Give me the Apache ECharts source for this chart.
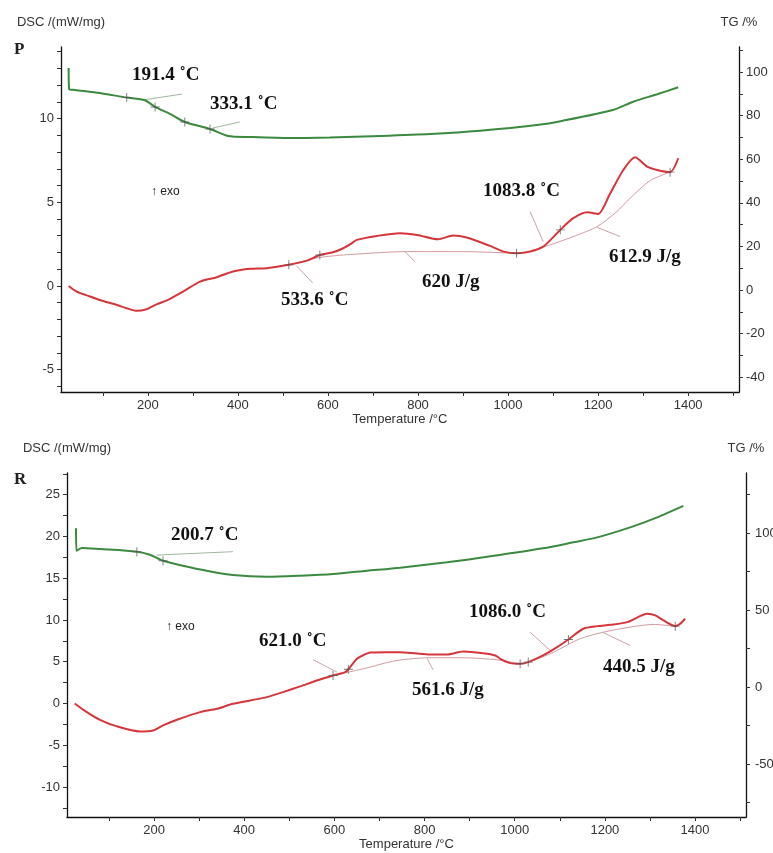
<!DOCTYPE html>
<html>
<head>
<meta charset="utf-8">
<script src="https://cdn.jsdelivr.net/npm/echarts@6/dist/echarts.min.js"></script>
<style>
  html, body { margin: 0; padding: 0; background: #fff; }
  #chart { width: 773px; height: 853px; }
</style>
</head>
<body>
<div id="chart"></div>
<script>
// ---- Sample P: TG (%) and DSC (mW/mg) against temperature (°C) ----
const pTg = [[24,101.9],[25,92.2],[38,91.8],[93,90.4],[153,88.3],[193,87.1],[216,84.0],[249,80.8],[282,77.1],[338,73.9],[378,70.7],[427,70.2],[516,69.7],[604,70.0],[716,70.7],[827,71.6],[938,73.1],[1064,75.7],[1122,77.7],[1233,82.6],[1278,86.4],[1331,89.8],[1378,93.0]];
const pDsc = [[24,0],[42,-0.34],[70,-0.62],[93,-0.84],[131,-1.14],[155,-1.35],[175,-1.49],[197,-1.39],[219,-1.1],[241,-0.88],[278,-0.34],[316,0.26],[353,0.52],[389,0.86],[427,1.02],[464,1.06],[513,1.26],[553,1.51],[582,1.85],[611,2.01],[634,2.25],[650,2.5],[664,2.75],[709,2.99],[760,3.15],[798,3.05],[845,2.79],[878,3.01],[908,2.89],[960,2.39],[990,2.05],[1019,1.95],[1049,2.05],[1078,2.35],[1100,2.9],[1116,3.35],[1145,4.05],[1176,4.4],[1200,4.3],[1227,5.54],[1256,6.93],[1282,7.69],[1309,7.13],[1331,6.93],[1360,6.8],[1378,7.63]];
const pDscBase1 = [[513,1.26],[582,1.7],[650,1.88],[776,2.05],[900,2.05],[1019,1.95]];
const pDscBase2 = [[1019,1.95],[1049,2.1],[1093,2.45],[1150,3.0],[1198,3.55],[1240,4.4],[1271,5.24],[1316,6.3],[1360,6.8]];
const pTgMarks = [[153,88.3],[216,84.0],[282,77.1],[338,73.9]];
const pDscMarks = [[513,1.26],[582,1.85],[1019,1.95],[1116,3.35],[1360,6.8]];
const pTgLeaders = [[[189,87.2],[276,89.9]], [[344,74.3],[404,77.1]]];
const pDscLeaders = [[[530,1.2],[566,0.18]], [[771,2.05],[793,1.45]], [[1049,4.44],[1078,2.65]], [[1198,3.5],[1249,2.95]]];

// ---- Sample R ----
const rTg = [[27,103.2],[28,88.5],[40,90.3],[80,89.6],[162,87.9],[191,85.9],[220,82.0],[264,78.8],[317,75.5],[375,72.7],[450,71.6],[524,72.3],[597,73.4],[672,75.5],[746,77.5],[850,81.0],[946,84.9],[1063,90.1],[1130,94.0],[1183,97.2],[1256,103.7],[1316,110.2],[1374,117.7]];
const rDsc = [[24,0],[51,-1.04],[80,-1.96],[118,-2.75],[169,-3.35],[198,-3.23],[220,-2.63],[251,-1.96],[302,-1.04],[340,-0.64],[375,-0.04],[413,0.36],[450,0.76],[486,1.36],[524,2.04],[561,2.75],[597,3.35],[624,3.75],[635,4.35],[650,5.35],[665,5.8],[679,6.1],[717,6.14],[746,6.14],[780,6.0],[812,5.87],[850,5.87],[886,6.23],[930,6.02],[957,5.75],[968,5.35],[990,4.83],[1012,4.75],[1030,4.95],[1063,5.75],[1094,6.74],[1119,7.66],[1152,8.95],[1183,9.26],[1212,9.42],[1250,9.74],[1294,10.74],[1312,10.54],[1330,9.94],[1356,9.26],[1367,9.54],[1378,10.14]];
const rDscBase1 = [[597,3.35],[664,4.15],[739,5.15],[812,5.47],[886,5.47],[961,5.23],[1012,4.75]];
const rDscBase2 = [[1030,4.95],[1079,5.95],[1145,7.75],[1197,8.54],[1256,9.14],[1307,9.46],[1356,9.26]];
const rTgMarks = [[162,87.9],[220,82.0]];
const rDscMarks = [[597,3.35],[631,4.1],[1012,4.75],[1030,4.95],[1119,7.66],[1356,9.26]];
const rTgLeaders = [[[206,85.7],[375,87.9]]];
const rDscLeaders = [[[553,5.23],[606,3.75]], [[806,5.35],[819,4.03]], [[1034,8.54],[1083,6.14]], [[1194,8.54],[1256,6.95]]];

// ---- Axis ticks and labels ----
const tempTicks = [100,200,300,400,500,600,700,800,900,1000,1100,1200,1300,1400,1500];
const tempLabels = [200,400,600,800,1000,1200,1400];
const pDscTicks = [-6,-5,-4,-3,-2,-1,0,1,2,3,4,5,6,7,8,9,10,11,12,13,14];
const pDscLabels = [-5,0,5,10];
const pTgTicks = [-40,-30,-20,-10,0,10,20,30,40,50,60,70,80,90,100,110];
const pTgLabels = [-40,-20,0,20,40,60,80,100];
const rDscTicks = [-12.5,-10,-7.5,-5,-2.5,0,2.5,5,7.5,10,12.5,15,17.5,20,22.5,25,27.5];
const rDscLabels = [-10,-5,0,5,10,15,20,25];
const rTgTicks = [-75,-50,-25,0,25,50,75,100,125];
const rTgLabels = [-50,0,50,100];

// ---- Annotation texts ----
const pNotes = ['191.4 ˚C', '333.1 ˚C', '1083.8 ˚C', '612.9 J/g', '620 J/g', '533.6 ˚C'];
const rNotes = ['200.7 ˚C', '621.0 ˚C', '1086.0 ˚C', '440.5 J/g', '561.6 J/g'];

const GREEN = '#3b8a3f';
const RED = '#d5363c';
const BASE = '#cf9ba1';
const LEAD_RED = '#c9a2a6';
const LEAD_GREEN = '#9fb79f';
const SANS = '"Liberation Sans", Arial, sans-serif';
const SERIF_BOLD = 'bold 19px "Liberation Serif", "Times New Roman", serif';
const PLUS = 'path://M4.5,0h1v4.5h4.5v1h-4.5v4.5h-1v-4.5h-4.5v-1h4.5z';
const plainNumber = v => String(v);

function xAxisFor(grid) {
  return {
    type: 'value', gridIndex: grid, min: 7, max: 1513,
    name: 'Temperature /°C', nameLocation: 'middle', nameGap: 21,
    nameTextStyle: { fontFamily: SANS, fontSize: 13, color: '#333' },
    axisLine: { show: true, onZero: false, lineStyle: { color: '#111', width: 1.3 } },
    axisTick: { show: true, customValues: tempTicks, length: 4, lineStyle: { color: '#333' } },
    axisLabel: { customValues: tempLabels, formatter: plainNumber, fontFamily: SANS, fontSize: 13, color: '#333', margin: 7 },
    splitLine: { show: false }
  };
}
function yAxisFor(grid, pos, min, max, ticks, labels, name, margin) {
  return {
    type: 'value', gridIndex: grid, position: pos, min: min, max: max,
    name: name, nameLocation: 'end', nameGap: 18,
    nameTextStyle: { fontFamily: SANS, fontSize: 13, color: '#333' },
    axisLine: { show: true, onZero: false, lineStyle: { color: '#111', width: 1.3 } },
    axisTick: { show: true, customValues: ticks, length: 4, lineStyle: { color: '#333' } },
    axisLabel: { customValues: labels, formatter: plainNumber, fontFamily: SANS, fontSize: 13, color: '#333', margin: margin || 7 },
    splitLine: { show: false }
  };
}
function curve(data, xi, yi, color, width, z) {
  return { type: 'line', xAxisIndex: xi, yAxisIndex: yi, data: data, smooth: 0.25,
    showSymbol: false, symbol: 'none', silent: true, z: z || 3,
    lineStyle: { color: color, width: width } };
}
function marks(data, xi, yi) {
  return { type: 'scatter', xAxisIndex: xi, yAxisIndex: yi, data: data, symbol: PLUS,
    symbolSize: [9, 9], silent: true, z: 5, itemStyle: { color: '#555' } };
}
function leaders(list, xi, yi, color) {
  return list.map(seg => ({ type: 'line', xAxisIndex: xi, yAxisIndex: yi, data: seg,
    showSymbol: false, symbol: 'none', silent: true, z: 2,
    lineStyle: { color: color, width: 1 } }));
}
function note(text, x, y) {
  return { type: 'text', x: x, y: y, z: 10,
    style: { text: text, font: SERIF_BOLD, fill: '#111', verticalAlign: 'middle' } };
}
function plain(text, x, y, font) {
  return { type: 'text', x: x, y: y, z: 10,
    style: { text: text, font: font, fill: '#222', verticalAlign: 'middle' } };
}

const chart = echarts.init(document.getElementById('chart'), null, { renderer: 'canvas' });
chart.setOption({
  backgroundColor: '#fff',
  animation: false,
  grid: [
    { left: 61, right: 34, top: 47, bottom: 461, outerBoundsMode: 'none', containLabel: false },
    { left: 67, right: 27, top: 473, bottom: 36, outerBoundsMode: 'none', containLabel: false }
  ],
  xAxis: [xAxisFor(0), xAxisFor(1)],
  yAxis: [
    yAxisFor(0, 'left', -6.34, 14.28, pDscTicks, pDscLabels, 'DSC /(mW/mg)'),
    yAxisFor(0, 'right', -46.8, 111.5, pTgTicks, pTgLabels, 'TG /%'),
    yAxisFor(1, 'left', -13.6, 27.6, rDscTicks, rDscLabels, 'DSC /(mW/mg)'),
    yAxisFor(1, 'right', -84.4, 139, rTgTicks, rTgLabels, 'TG /%', 9)
  ],
  series: [
    curve(pDscBase1, 0, 0, BASE, 1, 2),
    curve(pDscBase2, 0, 0, BASE, 1, 2),
    curve(pTg, 0, 1, GREEN, 2),
    curve(pDsc, 0, 0, RED, 2),
    ...leaders(pTgLeaders, 0, 1, LEAD_GREEN),
    ...leaders(pDscLeaders, 0, 0, LEAD_RED),
    marks(pTgMarks, 0, 1),
    marks(pDscMarks, 0, 0),

    curve(rDscBase1, 1, 2, BASE, 1, 2),
    curve(rDscBase2, 1, 2, BASE, 1, 2),
    curve(rTg, 1, 3, GREEN, 2),
    curve(rDsc, 1, 2, RED, 2),
    ...leaders(rTgLeaders, 1, 3, LEAD_GREEN),
    ...leaders(rDscLeaders, 1, 2, LEAD_RED),
    marks(rTgMarks, 1, 3),
    marks(rDscMarks, 1, 2)
  ],
  graphic: [
    plain('P', 14, 50, 'bold 17px "Liberation Serif", serif'),
    plain('R', 14, 480, 'bold 17px "Liberation Serif", serif'),
    plain('↑ exo', 151, 192, '12px ' + SANS),
    plain('↑ exo', 166, 627, '12px ' + SANS),
    note(pNotes[0], 132, 75),
    note(pNotes[1], 210, 104),
    note(pNotes[2], 483, 191),
    note(pNotes[3], 609, 257),
    note(pNotes[4], 422, 282),
    note(pNotes[5], 281, 300),
    note(rNotes[0], 171, 535),
    note(rNotes[1], 259, 641),
    note(rNotes[2], 469, 612),
    note(rNotes[3], 603, 667),
    note(rNotes[4], 412, 690)
  ]
});
</script>
</body>
</html>
